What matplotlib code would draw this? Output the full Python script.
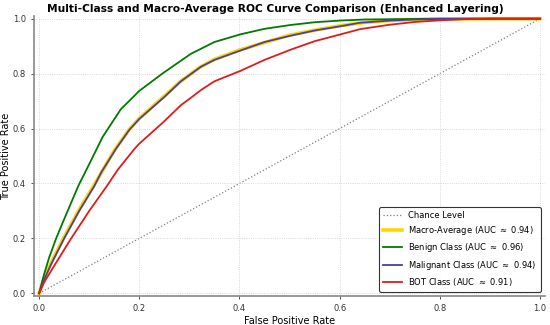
import numpy as np
import matplotlib
matplotlib.use("Agg")
from matplotlib import pyplot as plt

# values
benign_fpr = [0, 0.01, 0.02, 0.034, 0.05, 0.078, 0.104, 0.127, 0.163, 0.2, 0.246, 0.276,
              0.303, 0.35, 0.402, 0.45, 0.502, 0.55, 0.6, 0.65, 0.7, 0.8, 0.9, 1.0]
benign_tpr = [0, 0.07, 0.13, 0.2, 0.27, 0.39, 0.485, 0.57, 0.67, 0.737, 0.8, 0.838,
              0.872, 0.915, 0.943, 0.963, 0.977, 0.987, 0.993, 0.997, 0.998, 1.0, 1.0, 1.0]

malig_fpr = [0, 0.01, 0.025, 0.05, 0.08, 0.11, 0.124, 0.153, 0.18, 0.2, 0.25, 0.283, 0.323, 0.35,
             0.402, 0.45, 0.502, 0.55, 0.6, 0.64, 0.7, 0.75, 0.8, 0.9, 1.0]
malig_tpr = [0, 0.05, 0.11, 0.2, 0.3, 0.39, 0.44, 0.525, 0.595, 0.635, 0.715, 0.772, 0.825, 0.85,
             0.884, 0.915, 0.938, 0.957, 0.972, 0.985, 0.993, 0.997, 0.999, 1.0, 1.0]

macro_fpr = [0, 0.01, 0.025, 0.05, 0.08, 0.11, 0.15, 0.18, 0.2, 0.25, 0.28, 0.32, 0.35,
             0.4, 0.45, 0.5, 0.55, 0.6, 0.65, 0.7, 0.75, 0.8, 0.9, 1.0]
macro_tpr = [0, 0.055, 0.115, 0.205, 0.305, 0.395, 0.52, 0.597, 0.637, 0.718, 0.768, 0.822, 0.852,
             0.886, 0.913, 0.94, 0.958, 0.974, 0.986, 0.993, 0.997, 0.999, 1.0, 1.0]

bot_fpr = [0, 0.01, 0.03, 0.064, 0.1, 0.135, 0.157, 0.19, 0.2, 0.249, 0.283, 0.303, 0.323, 0.35,
           0.402, 0.45, 0.502, 0.55, 0.6, 0.641, 0.7, 0.75, 0.8, 0.85, 0.9, 1.0]
bot_tpr = [0, 0.04, 0.1, 0.2, 0.3, 0.39, 0.45, 0.525, 0.545, 0.625, 0.685, 0.712, 0.74, 0.772,
           0.81, 0.85, 0.887, 0.918, 0.942, 0.962, 0.978, 0.988, 0.994, 0.998, 1.0, 1.0]

auc = {"macro": 0.94, "benign": 0.96, "malig": 0.94, "bot": 0.91}

fig = plt.figure(figsize=(5.5, 3.25), dpi=100)
ax = fig.add_axes([0.062, 0.089, 0.929, 0.862])

ax.plot([0, 1], [0, 1], ls=":", color="gray", lw=0.9, label="Chance Level", zorder=1)
ax.plot(macro_fpr, macro_tpr, color="gold", lw=2.6, label=f"Macro-Average (AUC $\\approx$ {auc['macro']:.2f})", zorder=2)
ax.plot(benign_fpr, benign_tpr, color="#007a00", lw=1.3, label=f"Benign Class (AUC $\\approx$ {auc['benign']:.2f})", zorder=3)
ax.plot(malig_fpr, malig_tpr, color="#4b3f9e", lw=1.3, label=f"Malignant Class (AUC $\\approx$ {auc['malig']:.2f})", zorder=4)
ax.plot(bot_fpr, bot_tpr, color="#e01b1b", lw=1.3, label=f"BOT Class (AUC $\\approx$ {auc['bot']:.2f})", zorder=5)

ax.set_xlim(-0.01, 1.01)
ax.set_ylim(-0.01, 1.01)
ax.set_xticks(np.arange(0, 1.01, 0.2))
ax.set_yticks(np.arange(0, 1.01, 0.2))
ax.tick_params(labelsize=6, length=2.5, width=0.6, colors="#333333")
ax.grid(True, ls=":", lw=0.6, color="#cccccc")
for s in ["top", "right"]:
    ax.spines[s].set_visible(False)
for s in ["left", "bottom"]:
    ax.spines[s].set_color("#888888")
    ax.spines[s].set_linewidth(1.2)

ax.set_xlabel("False Positive Rate", fontsize=7, labelpad=2)
ax.set_ylabel("True Positive Rate", fontsize=7, labelpad=1)
fig.text(0.5, 0.972, "Multi-Class and Macro-Average ROC Curve Comparison (Enhanced Layering)",
         fontsize=7.7, fontweight="bold", ha="center", va="center")

leg = ax.legend(loc="lower right", fontsize=6, frameon=True, edgecolor="black",
                fancybox=True, borderpad=0.5, handlelength=2.2)
leg.get_frame().set_linewidth(0.8)

fig.savefig("out.png", dpi=100)
